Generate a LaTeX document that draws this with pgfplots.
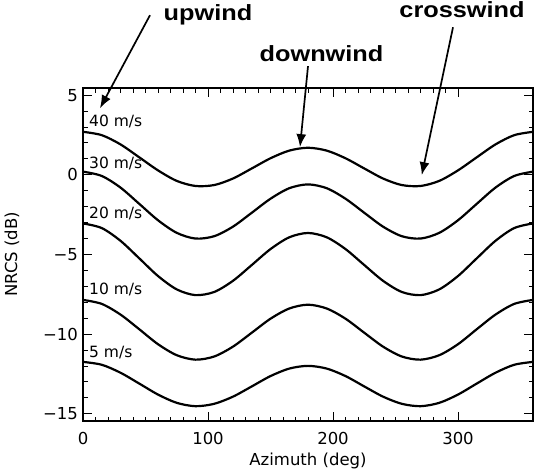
\documentclass[border=0pt]{standalone}
\usepackage{pgfplots}
\pgfplotsset{compat=1.18}
\usepackage{fontspec}
\setmainfont{DejaVu Sans}
\newfontfamily\annfont[FakeStretch=1.15]{Liberation Sans}
\usetikzlibrary{arrows.meta}
\begin{document}
\begin{tikzpicture}
\begin{axis}[
  width=450pt, height=333pt, scale only axis,
  xmin=0, xmax=360, ymin=-15.45, ymax=5.45,
  xtick={0,100,200,300}, xticklabels={0,100,200,300},
  ytick={-15,-10,-5,0,5}, yticklabels={−15,−10,−5,0,5},
  minor x tick num=9, minor y tick num=4,
  tick pos=both, tick align=inside,
  major tick length=9pt, minor tick length=4.5pt,
  every tick/.style={black, line width=1pt},
  axis line style={line width=1.3pt},
  tick label style={font=\fontsize{16.5}{19}\selectfont},
  xticklabel style={yshift=-8pt},
  yticklabel style={xshift=-1.5pt},
  xlabel={Azimuth (deg)}, ylabel={NRCS (dB)},
  label style={font=\fontsize{16.5}{19}\selectfont},
  xlabel style={at={(axis description cs:0.5,-0.12)}, anchor=center},
  ylabel style={at={(axis description cs:-0.1578,0.5)}, anchor=center},
  clip=false,
]
\coordinate (sw) at (rel axis cs:0,0);
\coordinate (ne) at (rel axis cs:1,1);
% 40 m/s
\addplot[black, line width=2.2pt, smooth, mark=none] coordinates {(0,2.70)(15,2.49)(30,1.91)(45,1.10)(60,0.28)(75,-0.38)(90,-0.70)(105,-0.64)(120,-0.23)(135,0.40)(150,1.04)(165,1.52)(180,1.70)(195,1.52)(210,1.04)(225,0.40)(240,-0.23)(255,-0.64)(270,-0.70)(285,-0.38)(300,0.28)(315,1.10)(330,1.91)(345,2.49)(360,2.70)};
% 30 m/s
\addplot[black, line width=2.2pt, smooth, mark=none] coordinates {(0,0.20)(15,-0.07)(30,-0.80)(45,-1.82)(60,-2.85)(75,-3.64)(90,-4.00)(105,-3.85)(120,-3.25)(135,-2.38)(150,-1.50)(165,-0.84)(180,-0.60)(195,-0.84)(210,-1.50)(225,-2.38)(240,-3.25)(255,-3.85)(270,-4.00)(285,-3.64)(300,-2.85)(315,-1.82)(330,-0.80)(345,-0.07)(360,0.20)};
% 20 m/s
\addplot[black, line width=2.2pt, smooth, mark=none] coordinates {(0,-3.05)(15,-3.34)(30,-4.14)(45,-5.24)(60,-6.35)(75,-7.19)(90,-7.55)(105,-7.35)(120,-6.65)(135,-5.66)(150,-4.66)(165,-3.92)(180,-3.65)(195,-3.92)(210,-4.66)(225,-5.66)(240,-6.65)(255,-7.35)(270,-7.55)(285,-7.19)(300,-6.35)(315,-5.24)(330,-4.14)(345,-3.34)(360,-3.05)};
% 10 m/s
\addplot[black, line width=2.2pt, smooth, mark=none] coordinates {(0,-7.85)(15,-8.10)(30,-8.77)(45,-9.69)(60,-10.63)(75,-11.32)(90,-11.60)(105,-11.40)(120,-10.78)(135,-9.91)(150,-9.03)(165,-8.39)(180,-8.15)(195,-8.39)(210,-9.03)(225,-9.91)(240,-10.78)(255,-11.40)(270,-11.60)(285,-11.32)(300,-10.63)(315,-9.69)(330,-8.77)(345,-8.10)(360,-7.85)};
% 5 m/s
\addplot[black, line width=2.2pt, smooth, mark=none] coordinates {(0,-11.74)(15,-11.92)(30,-12.42)(45,-13.10)(60,-13.79)(75,-14.31)(90,-14.52)(105,-14.37)(120,-13.92)(135,-13.28)(150,-12.63)(165,-12.16)(180,-11.99)(195,-12.16)(210,-12.63)(225,-13.28)(240,-13.92)(255,-14.37)(270,-14.52)(285,-14.31)(300,-13.79)(315,-13.10)(330,-12.42)(345,-11.92)(360,-11.74)};
% curve labels
\begin{scope}[every node/.style={anchor=base west, inner sep=0pt, font=\fontsize{15.5}{18}\selectfont}]
\node at (axis cs:4.8,3.06) {40 m/s};
\node at (axis cs:4.8,0.40) {30 m/s};
\node at (axis cs:4.8,-2.77) {20 m/s};
\node at (axis cs:4.8,-7.54) {10 m/s};
\node at (axis cs:4.8,-11.49) {5 m/s};
\end{scope}
% annotations
\begin{scope}[every node/.style={anchor=base, inner sep=0pt, font=\annfont\bfseries\fontsize{22}{26}\selectfont}]
\node at (axis cs:100,9.70) {upwind};
\node at (axis cs:190.8,7.09) {downwind};
\node at (axis cs:303.2,9.87) {crosswind};
\end{scope}
\begin{scope}[line width=1.7pt, -{Latex[length=13pt,width=10pt]}]
\draw (axis cs:53.6,10.02) -- (axis cs:13.6,4.18);
\draw (axis cs:180,6.82) -- (axis cs:173.6,1.74);
\draw (axis cs:296,9.26) -- (axis cs:271,-0.02);
\end{scope}
\end{axis}
\pgfresetboundingbox
\path ([xshift=-83pt,yshift=-54pt]sw) rectangle ([xshift=1pt,yshift=88pt]ne);
\end{tikzpicture}
\end{document}
